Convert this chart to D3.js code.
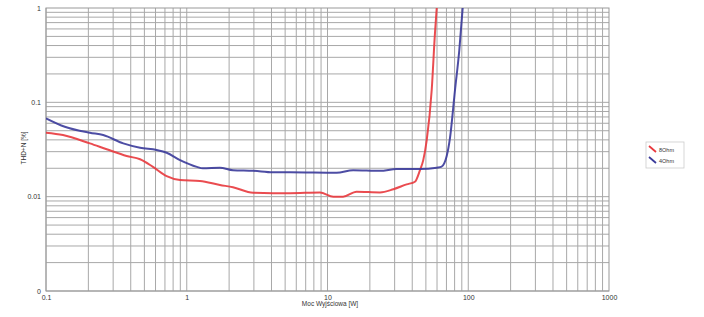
<!DOCTYPE html>
<html><head><meta charset="utf-8">
<script src="https://cdn.jsdelivr.net/npm/d3@7"></script>
<style>body{margin:0;background:#fff}svg{display:block}text{font-family:"Liberation Sans",Arial,sans-serif;fill:#333}</style>
</head><body><svg id="c" width="704" height="317"></svg>
<script>
const xTicks = [0.1, 1, 10, 100, 1000];
const xTickLabels = ["0.1", "1", "10", "100", "1000"];
const yTicks = [0.001, 0.01, 0.1, 1];
const yTickLabels = ["0", "0.01", "0.1", "1"];
const seriesNames = ["8Ohm", "4Ohm"];
const seriesColors = ["#e8383d", "#3a3a9a"];
const red8x = [0.1,0.132,0.205,0.27,0.374,0.466,0.575,0.72,0.896,1.24,1.72,2.13,2.96,4.1,5.42,8.84,11.0,12.9,16.1,23.6,29.4,36.5,41.8,45.4,47.9,50.7,55.0,58.0,59.7];
const red8y = [0.0476,0.045,0.0367,0.0318,0.027,0.0249,0.0207,0.0165,0.015,0.0147,0.0133,0.0126,0.011,0.0109,0.0109,0.0111,0.01,0.01,0.0113,0.0111,0.012,0.0135,0.0144,0.0191,0.0244,0.0398,0.135,0.539,1.0];
const blue4x = [0.1,0.136,0.205,0.255,0.354,0.466,0.612,0.72,0.896,1.18,1.3,1.72,2.13,2.96,4.1,5.42,11.6,15.2,23.6,31.0,45.4,59.7,64.7,67.5,70.3,74.2,80.5,86.4,91.3];
const blue4y = [0.0677,0.0551,0.0476,0.045,0.0367,0.033,0.0312,0.0292,0.0244,0.0207,0.02,0.0203,0.0191,0.0188,0.0181,0.0181,0.0179,0.0191,0.0188,0.0196,0.0196,0.0203,0.0208,0.0225,0.027,0.042,0.135,0.359,1.0];

const svg = d3.select("#c");
const L = 46, R = 609, T = 8, B = 291;
const x = d3.scaleLog().domain([0.1, 1000]).range([L, R]);
const y = d3.scaleLog().domain([0.001, 1]).range([B, T]);

// grid
const xs = [], ys = [];
for (let d = 0.1; d < 1000; d *= 10) for (let k = 1; k <= 9; k++) xs.push(+(d*k).toPrecision(3));
for (let d = 0.001; d < 1; d *= 10) for (let k = 1; k <= 9; k++) ys.push(+(d*k).toPrecision(3));
const g = svg.append("g");
g.selectAll("line.gx").data(xs).enter().append("line")
  .attr("x1", d => x(d)).attr("x2", d => x(d)).attr("y1", T).attr("y2", B)
  .attr("stroke", "#a8a8a8").attr("stroke-width", 1);
g.selectAll("line.gy").data(ys).enter().append("line")
  .attr("y1", d => y(d)).attr("y2", d => y(d)).attr("x1", L).attr("x2", R)
  .attr("stroke", "#a8a8a8").attr("stroke-width", 1);
svg.append("rect").attr("x", L).attr("y", T).attr("width", R-L).attr("height", B-T)
  .attr("fill", "none").attr("stroke", "#999").attr("stroke-width", 1);

// axes
const xa = svg.append("g").attr("transform", `translate(0,${B})`)
  .call(d3.axisBottom(x).tickValues(xTicks).tickFormat((d,i) => xTickLabels[i]).tickSize(0).tickPadding(4));
xa.select(".domain").remove();
xa.selectAll("text").attr("font-size", 7).style("fill", "#333");
const ya = svg.append("g").attr("transform", `translate(${L},0)`)
  .call(d3.axisLeft(y).tickValues(yTicks).tickFormat((d,i) => yTickLabels[i]).tickSize(0).tickPadding(5));
ya.select(".domain").remove();
ya.selectAll("text").attr("font-size", 7).style("fill", "#333");

svg.append("text").attr("x", 330).attr("y", 306).attr("text-anchor", "middle")
  .attr("font-size", 6.5).text("Moc Wyjściowa [W]");
svg.append("text").attr("transform", "translate(26,148) rotate(-90)").attr("text-anchor", "middle")
  .attr("font-size", 6.5).text("THD+N [%]");

// lines
svg.append("clipPath").attr("id", "cp").append("rect").attr("x", L).attr("y", T).attr("width", R-L).attr("height", B-T);
const line = d3.line().x(d => x(d[0])).y(d => y(d[1])).curve(d3.curveMonotoneX);
const series = [d3.zip(red8x, red8y), d3.zip(blue4x, blue4y)];
series.forEach((s, i) => {
  svg.append("path").attr("d", line(s)).attr("fill", "none").attr("stroke", seriesColors[i])
    .attr("stroke-width", 2).attr("clip-path", "url(#cp)").attr("opacity", 0.9);
});

// legend
const lg = svg.append("g").attr("transform", "translate(646,142)");
lg.append("rect").attr("width", 38).attr("height", 26).attr("fill", "#fff").attr("stroke", "#ccc").attr("stroke-width", 0.8);
seriesNames.forEach((n, i) => {
  const yy = 8 + i * 11;
  lg.append("line").attr("x1", 3).attr("y1", yy - 4).attr("x2", 10).attr("y2", yy + 2)
    .attr("stroke", seriesColors[i]).attr("stroke-width", 1.8);
  lg.append("text").attr("x", 13).attr("y", yy + 2).attr("font-size", 5.5).text(n);
});
</script></body></html>
